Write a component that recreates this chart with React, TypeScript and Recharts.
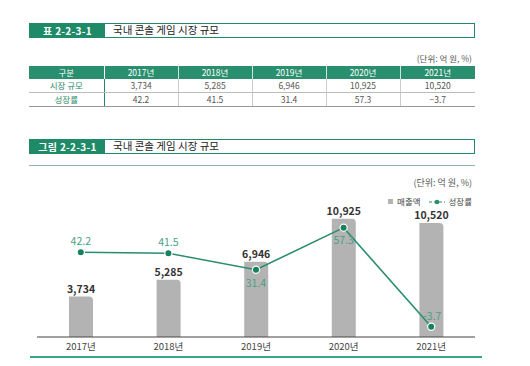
import React from 'react';
import { ComposedChart, Bar, Line, XAxis, YAxis, LabelList } from 'recharts';

const years = ['2017년', '2018년', '2019년', '2020년', '2021년'];
const marketSize = [3734, 5285, 6946, 10925, 10520];
const growthRate = [42.2, 41.5, 31.4, 57.3, -3.7];
const labelBelow = [false, false, true, true, false];

const tableTitle = '국내 콘솔 게임 시장 규모';
const unitText = '(단위: 억 원, %)';

const data = years.map((y, i) => ({ year: y, size: marketSize[i], rate: growthRate[i] }));

const FONT = '"Noto Sans CJK KR", "Noto Sans", sans-serif';
const GREEN = '#1f8a68';
const LINE_GREEN = '#2a8d6e';
const LABEL_GREEN = '#4b9f86';

const fmtRate = (v: number) => (v < 0 ? '−' + Math.abs(v).toFixed(1) : v.toFixed(1));

function TitleBar({ top, label }: { top: number; label: string }) {
  return (
    <div style={{ position: 'absolute', left: 29, top, width: 446, height: 15, boxSizing: 'border-box', border: `1px solid ${GREEN}`, display: 'flex', background: '#fff' }}>
      <div style={{ width: 75, background: GREEN, color: '#fff', fontSize: 10, fontWeight: 700, display: 'flex', alignItems: 'center', justifyContent: 'center', letterSpacing: 0.3, lineHeight: '1' }}>{label}</div>
      <div style={{ paddingLeft: 8, fontSize: 10.5, color: '#222', display: 'flex', alignItems: 'center', lineHeight: '1' }}>{tableTitle}</div>
    </div>
  );
}

function LineLabel(props: any) {
  const { x, y, value, index } = props;
  const below = labelBelow[index];
  return (
    <text x={x} y={below ? y + 14 : y - 10} textAnchor="middle" fill={LABEL_GREEN} fontSize={10.5} fontFamily={FONT} dominantBaseline="middle">
      {fmtRate(value)}
    </text>
  );
}

export default function App() {
  const colW = [75, 74, 74, 74, 74, 75];
  const cellBase: React.CSSProperties = { padding: 0, textAlign: 'center', fontSize: 8.5, lineHeight: '1' };
  return (
    <div style={{ position: 'absolute', left: 0, top: 0, width: 530, height: 366, background: '#fff', fontFamily: FONT, overflow: 'hidden' }}>
      <TitleBar top={23} label="표 2-2-3-1" />
      <div style={{ position: 'absolute', right: 58, top: 54, fontSize: 8.5, lineHeight: '9px', color: '#555' }}>{unitText}</div>
      <table style={{ position: 'absolute', left: 29, top: 66, width: 446, borderCollapse: 'collapse', tableLayout: 'fixed' }}>
        <colgroup>
          {colW.map((w, i) => <col key={i} style={{ width: w }} />)}
        </colgroup>
        <tbody>
          <tr style={{ height: 12.5, background: '#2a8f6e' }}>
            <td style={{ ...cellBase, color: '#fff', borderRight: '1px solid #ffffff' }}>구분</td>
            {years.map((y, i) => (
              <td key={y} style={{ ...cellBase, color: '#fff', borderRight: i < 4 ? '1px solid #cfe6dd' : 'none' }}>{y}</td>
            ))}
          </tr>
          <tr style={{ height: 13.5 }}>
            <td style={{ ...cellBase, color: GREEN, borderRight: `1px solid ${GREEN}`, borderBottom: '1px solid #bbb' }}>시장 규모</td>
            {marketSize.map((v, i) => (
              <td key={i} style={{ ...cellBase, color: '#555', borderRight: i < 4 ? '1px solid #ccc' : 'none', borderBottom: '1px solid #bbb' }}>{v.toLocaleString('en-US')}</td>
            ))}
          </tr>
          <tr style={{ height: 14.5 }}>
            <td style={{ ...cellBase, color: GREEN, borderRight: `1px solid ${GREEN}`, borderBottom: '1.5px solid #999' }}>성장률</td>
            {growthRate.map((v, i) => (
              <td key={i} style={{ ...cellBase, color: '#555', borderRight: i < 4 ? '1px solid #ccc' : 'none', borderBottom: '1.5px solid #999' }}>{fmtRate(v)}</td>
            ))}
          </tr>
        </tbody>
      </table>

      <TitleBar top={139} label="그림 2-2-3-1" />
      <div style={{ position: 'absolute', left: 29, top: 165, width: 446, height: 1, background: '#8fb3a6' }} />
      <div style={{ position: 'absolute', right: 58, top: 178, fontSize: 9, lineHeight: '9px', color: '#555' }}>{unitText}</div>
      <div style={{ position: 'absolute', right: 58, top: 197, display: 'flex', alignItems: 'center', fontSize: 8.5, lineHeight: '9px', color: '#444' }}>
        <span style={{ display: 'inline-block', width: 5, height: 5, background: '#b3b3b3', marginRight: 4 }} />
        <span>매출액</span>
        <svg width={16} height={8} style={{ marginLeft: 8, marginRight: 4 }}>
          <line x1={0} y1={4} x2={16} y2={4} stroke={LINE_GREEN} strokeWidth={1.2} strokeDasharray="3 2" />
          <circle cx={8} cy={4} r={2.3} fill={LINE_GREEN} />
        </svg>
        <span>성장률</span>
      </div>

      <div style={{ position: 'absolute', left: 0, top: 190 }}>
        <ComposedChart width={530} height={176} data={data} margin={{ top: 17, right: 55, bottom: 9, left: 37 }}>
          <XAxis dataKey="year" height={20} tickSize={0} tickMargin={6} axisLine={{ stroke: '#444', strokeWidth: 1 }} tick={{ fontSize: 9.5, fill: '#444', fontFamily: FONT }} />
          <YAxis yAxisId="bar" hide domain={[0, 12000]} />
          <YAxis yAxisId="line" hide domain={[-10, 70]} orientation="right" />
          <Bar yAxisId="bar" dataKey="size" fill="#b3b3b3" barSize={24} radius={[0, 4, 0, 0]} isAnimationActive={false}>
            <LabelList dataKey="size" position="top" offset={4} formatter={(v: any) => Number(v).toLocaleString('en-US')} style={{ fontSize: 10.5, fontWeight: 600, fill: '#333', fontFamily: FONT }} />
          </Bar>
          <Line yAxisId="line" dataKey="rate" stroke={LINE_GREEN} strokeWidth={1.6} isAnimationActive={false}
            dot={{ r: 3.6, fill: '#17805e', stroke: '#ffffff', strokeWidth: 1.2 }} label={<LineLabel />} />
        </ComposedChart>
      </div>
      <div style={{ position: 'absolute', left: 30, top: 356, width: 452, height: 1.5, background: '#3aa58a' }} />
    </div>
  );
}
